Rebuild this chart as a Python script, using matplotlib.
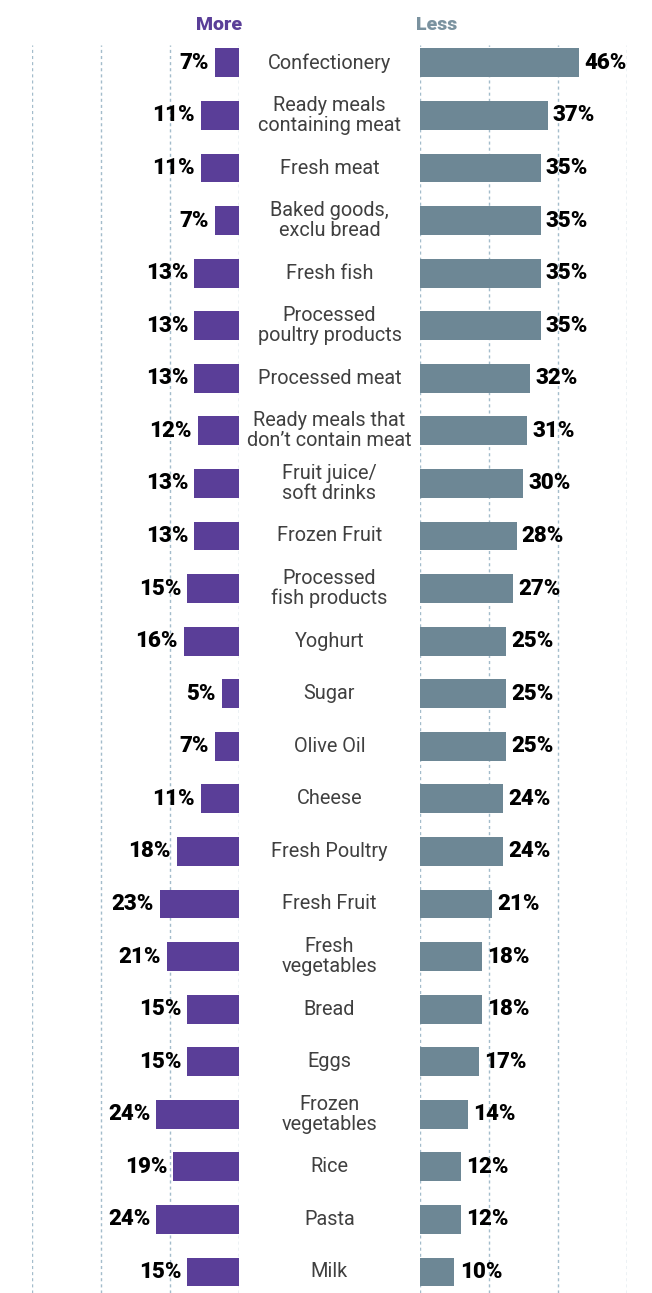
import matplotlib.pyplot as plt
from matplotlib.transforms import blended_transform_factory

# ---------- data ----------
categories = [
    "Confectionery", "Ready meals\ncontaining meat", "Fresh meat",
    "Baked goods,\nexclu bread", "Fresh fish", "Processed\npoultry products",
    "Processed meat", "Ready meals that\ndon\u2019t contain meat",
    "Fruit juice/\nsoft drinks", "Frozen Fruit", "Processed\nfish products",
    "Yoghurt", "Sugar", "Olive Oil", "Cheese", "Fresh Poultry", "Fresh Fruit",
    "Fresh\nvegetables", "Bread", "Eggs", "Frozen\nvegetables", "Rice", "Pasta",
    "Milk",
]
more = [7, 11, 11, 7, 13, 13, 13, 12, 13, 13, 15, 16, 5, 7, 11, 18, 23, 21,
        15, 15, 24, 19, 24, 15]
less = [46, 37, 35, 35, 35, 35, 32, 31, 30, 28, 27, 25, 25, 25, 24, 24, 21,
        18, 18, 17, 14, 12, 12, 10]
grid_ticks = [0, 20, 40, 60]

# ---------- style ----------
PURPLE = "#5a3e98"
SLATE = "#6d8795"
GRID = "#a3bccb"
W, H = 652, 1293

fig = plt.figure(figsize=(W / 100, H / 100), dpi=100)
top, bottom = 45, 1293
ax_l = fig.add_axes([32 / W, 1 - bottom / H, (239 - 32) / W, (bottom - top) / H])
ax_r = fig.add_axes([420 / W, 1 - bottom / H, (627 - 420) / W, (bottom - top) / H])

n = len(categories)
y = list(range(n))
ylim = (n - 1 + 0.4, -0.34)

for ax, vals, col in ((ax_l, more, PURPLE), (ax_r, less, SLATE)):
    ax.barh(y, vals, height=0.55, color=col, zorder=2)
    for g in grid_ticks:
        ax.axvline(g, color=GRID, lw=1, ls=(0, (2.2, 2.2)), zorder=1)
    ax.set_ylim(*ylim)
    ax.axis("off")

ax_l.set_xlim(60, 0)
ax_r.set_xlim(0, 60)

val_font = dict(family="Roboto", weight="heavy", fontsize=16, color="black")
for i in y:
    ax_l.text(more[i] + 1.7, i, f"{more[i]}%", ha="right", va="center", **val_font)
    ax_r.text(less[i] + 1.5, i, f"{less[i]}%", ha="left", va="center", **val_font)

# category names in the gap between the two panels
tr = blended_transform_factory(fig.transFigure, ax_l.transData)
for i, name in enumerate(categories):
    ax_l.text(329.5 / W, i, name, transform=tr, ha="center", va="center",
              family="Roboto", weight="normal", fontsize=14.3, color="#404040",
              linespacing=1.08, clip_on=False)

fig.text(242 / W, 1 - 25 / H, "More", ha="right", va="center", color=PURPLE,
         family="Roboto", weight="heavy", fontsize=14)
fig.text(416 / W, 1 - 25 / H, "Less", ha="left", va="center", color="#7a929f",
         family="Roboto", weight="heavy", fontsize=14)

fig.savefig("out.png", dpi=100)
